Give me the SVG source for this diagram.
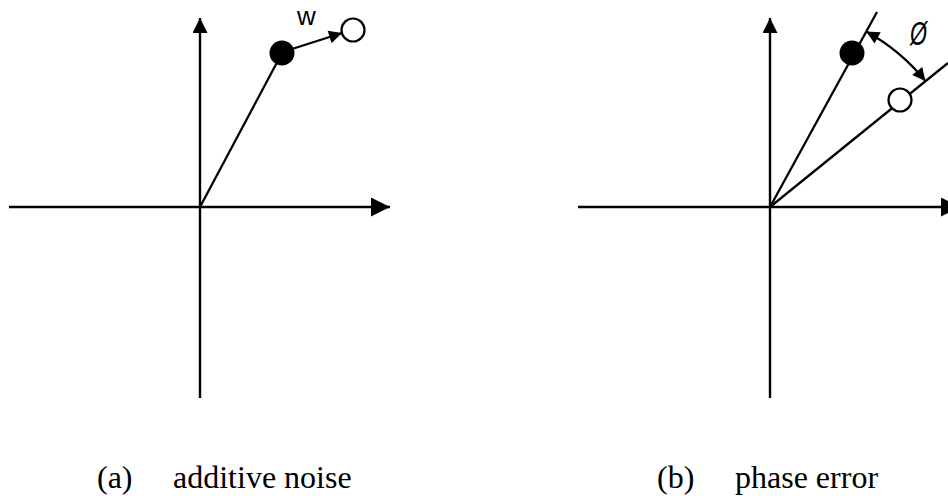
<svg xmlns="http://www.w3.org/2000/svg" width="948" height="496" viewBox="0 0 948 496">
<defs>
<style>
.ax{stroke:#000;stroke-width:2.4;fill:none}
.ln{stroke:#000;stroke-width:2.3;fill:none}
.cap{font-family:"Liberation Serif","Times New Roman",serif;font-size:32px;fill:#000}
.lbl{font-family:"Liberation Sans",Arial,sans-serif;fill:#000}
</style>
<marker id="ah" viewBox="0 0 10 10" refX="10" refY="5" markerWidth="16" markerHeight="13" markerUnits="userSpaceOnUse" orient="auto-start-reverse">
<path d="M0,0 L10,5 L0,10 z" fill="#000"/>
</marker>
<marker id="axh" viewBox="0 0 10 10" refX="10" refY="5" markerWidth="17" markerHeight="15" markerUnits="userSpaceOnUse" orient="auto">
<path d="M0,0 L10,5 L0,10 z" fill="#000"/>
</marker>
<marker id="axh2" viewBox="0 0 10 10" refX="10" refY="5" markerWidth="27" markerHeight="19" markerUnits="userSpaceOnUse" orient="auto">
<path d="M0,0 L10,5 L0,10 z" fill="#000"/>
</marker>
</defs>
<rect width="948" height="496" fill="#fff"/>
<g id="diagram-a">
<g id="axes-a">
<line class="ax" x1="9" y1="207" x2="390" y2="207" marker-end="url(#axh2)"/>
<line class="ax" x1="200" y1="398" x2="200" y2="18" marker-end="url(#axh)"/>
</g>
<g id="vector-a"><line class="ln" x1="200" y1="207" x2="282" y2="53"/></g>
<g id="dot-a"><circle cx="282" cy="53" r="12.5" fill="#000"/></g>
<g id="noisy-a"><circle cx="353" cy="30" r="11.5" fill="#fff" stroke="#000" stroke-width="2.2"/></g>
<g id="noise-arrow"><line class="ln" x1="292" y1="49" x2="342" y2="33" marker-end="url(#ah)"/></g>
<text class="lbl" x="297" y="25" font-size="26">w</text>
<text class="cap" x="97" y="488">(a)</text>
<text class="cap" x="173" y="488">additive noise</text>
</g>
<g id="diagram-b">
<g id="axes-b">
<line class="ax" x1="578" y1="207" x2="960" y2="207" marker-end="url(#axh2)"/>
<line class="ax" x1="770" y1="398" x2="770" y2="18" marker-end="url(#axh)"/>
</g>
<g id="vectors-b">
<line class="ln" x1="770" y1="207" x2="877" y2="12"/>
<line class="ln" x1="770" y1="207" x2="948" y2="63"/>
</g>
<g id="dot-b"><circle cx="852" cy="53" r="12.5" fill="#000"/></g>
<g id="rotated-b"><circle cx="900" cy="100" r="11.5" fill="#fff" stroke="#000" stroke-width="2.2"/></g>
<g id="phase-arc"><path class="ln" d="M866.2,31.6 A200,200 0 0 1 925.4,81.1" marker-start="url(#ah)" marker-end="url(#ah)"/></g>
<text class="lbl" x="910" y="45" font-style="italic" font-size="34" textLength="17" lengthAdjust="spacingAndGlyphs">Ø</text>
<text class="cap" x="657" y="488">(b)</text>
<text class="cap" x="735" y="488">phase error</text>
</g>
</svg>
